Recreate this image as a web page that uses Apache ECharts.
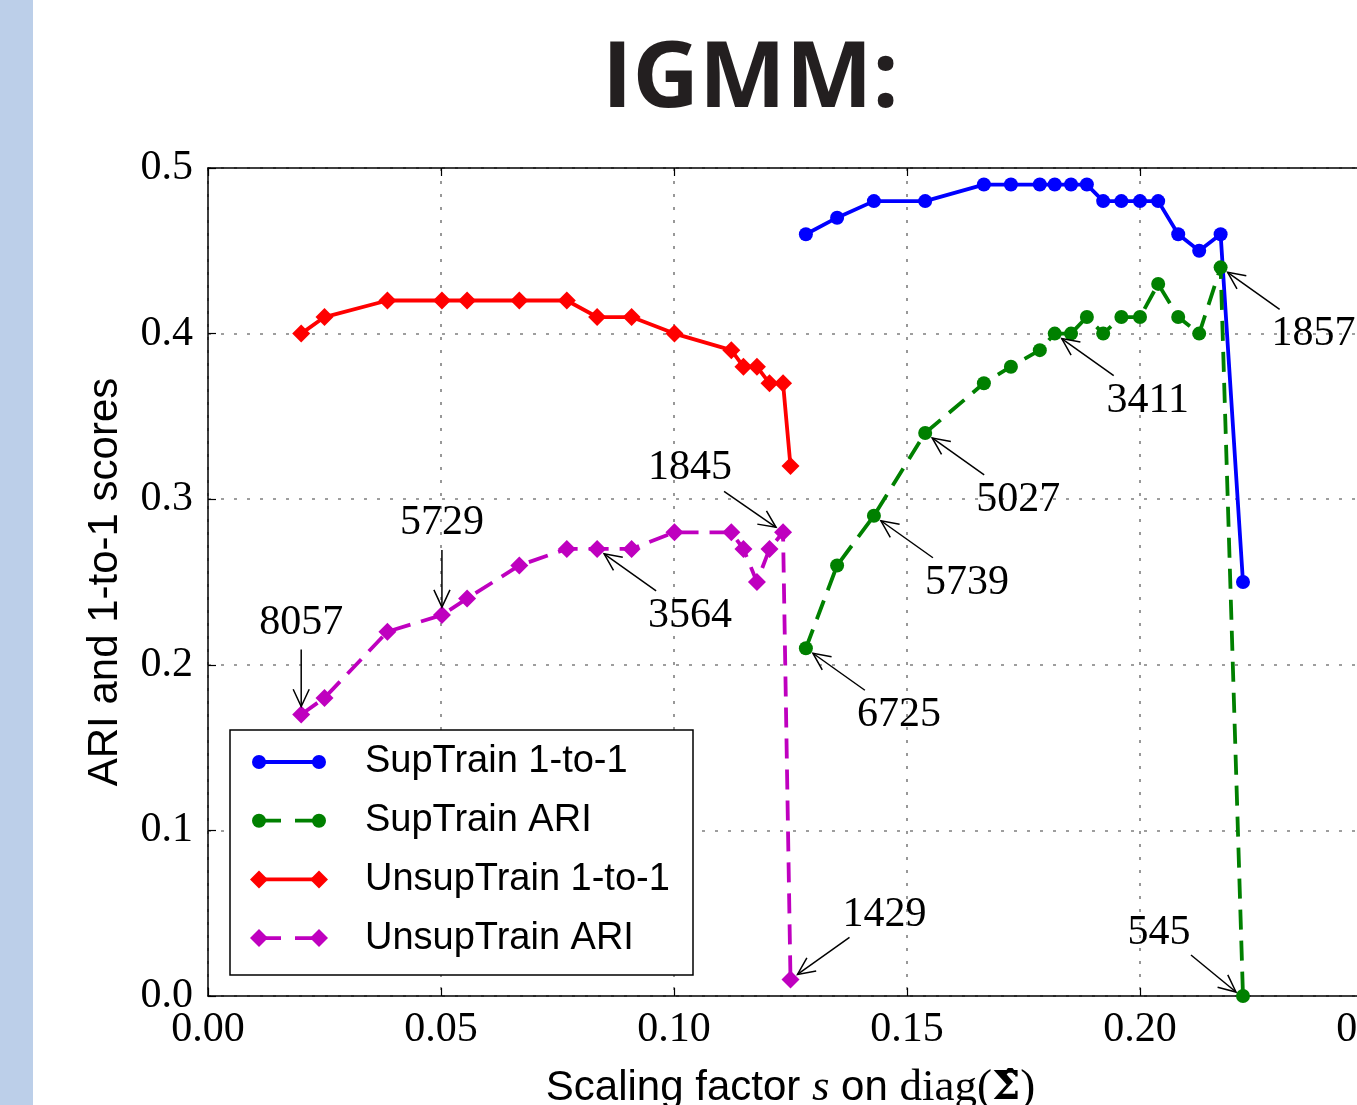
<!DOCTYPE html>
<html lang="en">
<head>
    <meta charset="utf-8">
    <title>IGMM</title>
    <script src="https://cdn.jsdelivr.net/npm/echarts@6/dist/echarts.min.js"></script>
    <style>
        html, body { margin: 0; padding: 0; background: #fff; }
        #chart { width: 1357px; height: 1105px; }
    </style>
</head>
<body>
<div id="chart"></div>
<script>
    // scaling factor s for the supervised runs
    var sSup = [0.1283, 0.1350, 0.1429, 0.1539, 0.1665, 0.1723, 0.1785, 0.1817, 0.1852,
                0.1886, 0.1921, 0.1960, 0.2000, 0.2039, 0.2082, 0.2127, 0.2173, 0.2221];
    var supOneToOne = [0.46, 0.47, 0.48, 0.48, 0.49, 0.49, 0.49, 0.49, 0.49,
                       0.49, 0.48, 0.48, 0.48, 0.48, 0.46, 0.45, 0.46, 0.25];
    var supAri = [0.21, 0.26, 0.29, 0.34, 0.37, 0.38, 0.39, 0.40, 0.40,
                  0.41, 0.40, 0.41, 0.41, 0.43, 0.41, 0.40, 0.44, 0.00];

    // scaling factor s for the unsupervised runs
    var sUnsup = [0.0200, 0.0250, 0.0385, 0.0502, 0.0556, 0.0668, 0.0770, 0.0835,
                  0.0909, 0.1001, 0.1123, 0.1149, 0.1178, 0.1205, 0.1234, 0.1250];
    var unsupOneToOne = [0.40, 0.41, 0.42, 0.42, 0.42, 0.42, 0.42, 0.41,
                         0.41, 0.40, 0.39, 0.38, 0.38, 0.37, 0.37, 0.32];
    var unsupAri = [0.17, 0.18, 0.22, 0.23, 0.24, 0.26, 0.27, 0.27,
                    0.27, 0.28, 0.28, 0.27, 0.25, 0.27, 0.28, 0.01];

    var seriesNames = ['SupTrain 1-to-1', 'SupTrain ARI', 'UnsupTrain 1-to-1', 'UnsupTrain ARI'];

    // number of clusters written next to some points: series index, point index, text
    var noteSeries = [3, 3, 3, 3, 3, 1, 1, 1, 1, 1, 1];
    var notePoint  = [0, 3, 7, 14, 15, 0, 2, 3, 7, 16, 17];
    var noteText   = ['8057', '5729', '3564', '1845', '1429', '6725', '5739', '5027', '3411', '1857', '545'];

    var xTicks = [0, 0.05, 0.10, 0.15, 0.20, 0.25];
    var yTicks = [0, 0.1, 0.2, 0.3, 0.4, 0.5];

    // where the text / arrow sit relative to the point (pixels)
    var notePlace = ['up', 'up', 'downRight', 'upLeft', 'upRight', 'downRight', 'downRight',
                     'downRight', 'downRight', 'downRight', 'upLeftNear'];
    var placeOffsets = {
        up:         { text: [0, -92],  tail: [0, -65],  tip: [0, -8] },
        downRight:  { text: [93, 67],  tail: [59, 42],  tip: [7, 5] },
        upLeft:     { text: [-93, -64], tail: [-59, -41], tip: [-7, -5] },
        upRight:    { text: [94, -64], tail: [59, -42], tip: [7, -5] },
        upLeftNear: { text: [-84, -63], tail: [-52, -41], tip: [-7, -4] }
    };

    var colors = ['#0000ff', '#008000', '#ff0000', '#bf00bf'];
    var symbols = ['circle', 'circle', 'diamond', 'diamond'];
    var symbolSizes = [14, 14, 18, 18];
    var lineTypes = ['solid', [20, 11], 'solid', [20, 11]];
    var serif = '"Liberation Serif", "DejaVu Serif", serif';
    var sans = '"Liberation Sans", Arial, sans-serif';

    function zip(xs, ys) {
        return xs.map(function (x, i) { return [x, ys[i]]; });
    }
    var seriesData = [zip(sSup, supOneToOne), zip(sSup, supAri), zip(sUnsup, unsupOneToOne), zip(sUnsup, unsupAri)];

    var chart = echarts.init(document.getElementById('chart'), null, { renderer: 'canvas' });

    var axisLine = { show: true, lineStyle: { color: '#000', width: 1.5 } };
    var tickStyle = { show: true, inside: true, length: 8, lineStyle: { color: '#000', width: 1.2 } };
    var gridLine = { show: true, lineStyle: { color: '#7f7f7f', width: 1.6, type: [3, 10] } };

    var option = {
        animation: false,
        backgroundColor: '#fff',
        title: {
            text: 'IGMM:',
            left: 597,
            top: 30,
            textStyle: { fontFamily: '"Open Sans", "Noto Sans", sans-serif', fontWeight: 'bold', fontSize: 92, color: '#231f20' }
        },
        grid: { left: 208, top: 168, right: -16, bottom: 109, outerBoundsMode: 'none', containLabel: false },
        xAxis: [{
            type: 'value',
            min: xTicks[0], max: xTicks[xTicks.length - 1], interval: 0.05,
            axisLine: axisLine, axisTick: tickStyle, splitLine: gridLine,
            axisLabel: {
                margin: 13, color: '#000', fontFamily: serif, fontSize: 42,
                showMinLabel: true, showMaxLabel: true, hideOverlap: false,
                formatter: function (v) { return v.toFixed(2); }
            },
            name: '{a|Scaling factor }{b|s}{a| on }{c|diag(}{d|Σ\u0302}{c|)}',
            nameLocation: 'middle',
            nameGap: 70,
            nameTextStyle: {
                rich: {
                    a: { fontFamily: sans, fontSize: 42, color: '#000' },
                    b: { fontFamily: serif, fontStyle: 'italic', fontSize: 45, color: '#000' },
                    c: { fontFamily: serif, fontSize: 45, color: '#000' },
                    d: { fontFamily: '"DejaVu Serif", serif', fontWeight: 'bold', fontSize: 40, color: '#000' }
                }
            }
        }, {
            type: 'value', position: 'top',
            min: xTicks[0], max: xTicks[xTicks.length - 1], interval: 0.05,
            axisLine: axisLine, axisTick: tickStyle,
            axisLabel: { show: false }, splitLine: { show: false }
        }],
        yAxis: {
            type: 'value',
            min: yTicks[0], max: yTicks[yTicks.length - 1], interval: 0.1,
            axisLine: axisLine, axisTick: tickStyle, splitLine: gridLine,
            axisLabel: {
                margin: 15, color: '#000', fontFamily: serif, fontSize: 42,
                showMinLabel: true, showMaxLabel: true, hideOverlap: false,
                formatter: function (v) { return v.toFixed(1); }
            },
            name: 'ARI and 1-to-1 scores',
            nameLocation: 'middle',
            nameGap: 82,
            nameTextStyle: { fontFamily: sans, fontSize: 42, color: '#000' }
        },
        series: seriesNames.map(function (name, i) {
            return {
                name: name,
                type: 'line',
                data: seriesData[i],
                symbol: symbols[i],
                symbolSize: symbolSizes[i],
                showAllSymbol: true,
                lineStyle: { color: colors[i], width: 3.8, type: lineTypes[i] },
                itemStyle: { color: colors[i], borderWidth: 0 },
                emphasis: { disabled: true }
            };
        })
    };
    chart.setOption(option);

    // ---- extra drawings: side strip, legend box, annotations ----
    var graphics = [];

    graphics.push({
        type: 'rect', left: 0, top: 0, z: 0,
        shape: { width: 33, height: 1105 },
        style: { fill: '#bccfe9' }
    });

    // legend drawn by hand so that each line has a marker at both ends
    var lgX = 230, lgY = 730, lgW = 463, lgH = 245, rowGap = 58.7, firstRow = 762;
    graphics.push({
        type: 'rect', z: 50,
        shape: { x: lgX, y: lgY, width: lgW, height: lgH },
        style: { fill: '#fff', stroke: '#000', lineWidth: 1.5 }
    });
    function marker(i, x, y, z) {
        if (symbols[i] === 'circle') {
            return { type: 'circle', z: z, shape: { cx: x, cy: y, r: symbolSizes[i] / 2 }, style: { fill: colors[i] } };
        }
        var h = symbolSizes[i] / 2;
        return { type: 'polygon', z: z, shape: { points: [[x, y - h], [x + h, y], [x, y + h], [x - h, y]] }, style: { fill: colors[i] } };
    }
    seriesNames.forEach(function (name, i) {
        var y = firstRow + i * rowGap;
        graphics.push({
            type: 'line', z: 51,
            shape: { x1: 259, y1: y, x2: 319, y2: y },
            style: { stroke: colors[i], lineWidth: 3.8, lineDash: lineTypes[i] === 'solid' ? null : [22, 14] }
        });
        graphics.push(marker(i, 259, y, 52));
        graphics.push(marker(i, 319, y, 52));
        graphics.push({
            type: 'text', z: 52, x: 365, y: y,
            style: { text: name, fontFamily: sans, fontSize: 38, fill: '#000', verticalAlign: 'middle', align: 'left' }
        });
    });

    // annotations with open arrow heads
    noteText.forEach(function (txt, k) {
        var p = seriesData[noteSeries[k]][notePoint[k]];
        var px = chart.convertToPixel({ xAxisIndex: 0, yAxisIndex: 0 }, p);
        var o = placeOffsets[notePlace[k]];
        var tip = [px[0] + o.tip[0], px[1] + o.tip[1]];
        var tail = [px[0] + o.tail[0], px[1] + o.tail[1]];
        var dx = tail[0] - tip[0], dy = tail[1] - tip[1];
        var len = Math.sqrt(dx * dx + dy * dy);
        dx /= len; dy /= len;
        var ang = 25 * Math.PI / 180, hl = 19;
        function rot(a) {
            return [tip[0] + hl * (dx * Math.cos(a) - dy * Math.sin(a)),
                    tip[1] + hl * (dx * Math.sin(a) + dy * Math.cos(a))];
        }
        graphics.push({
            type: 'line', z: 60,
            shape: { x1: tail[0], y1: tail[1], x2: tip[0], y2: tip[1] },
            style: { stroke: '#000', lineWidth: 1.5 }
        });
        graphics.push({
            type: 'polyline', z: 60,
            shape: { points: [rot(ang), tip, rot(-ang)] },
            style: { stroke: '#000', lineWidth: 1.5, fill: null }
        });
        graphics.push({
            type: 'text', z: 60,
            x: px[0] + o.text[0], y: px[1] + o.text[1],
            style: { text: txt, fontFamily: serif, fontSize: 42, fill: '#000', align: 'center', verticalAlign: 'middle' }
        });
    });

    chart.setOption({ graphic: graphics });
</script>
</body>
</html>
